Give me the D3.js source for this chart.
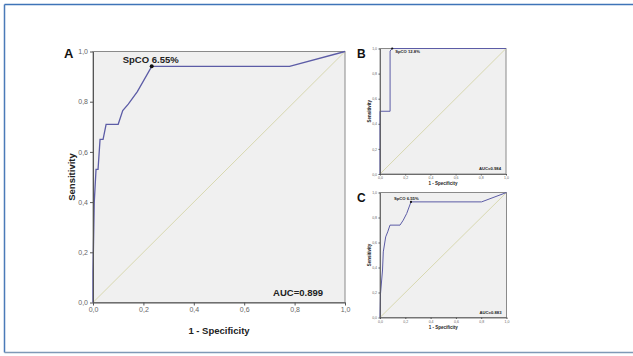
<!DOCTYPE html>
<html>
<head>
<meta charset="utf-8">
<script src="https://cdn.jsdelivr.net/npm/d3@7"></script>
<style>
  html, body { margin: 0; padding: 0; background: #fff; }
  svg { display: block; font-family: "Liberation Sans", Arial, sans-serif; }
</style>
</head>
<body>
<svg id="fig" width="633" height="356"></svg>
<script>
// ROC curves: [1 - specificity, sensitivity]
const rocA = [[0,0],[0,0.12],[0.005,0.40],[0.012,0.53],[0.02,0.53],[0.028,0.65],[0.04,0.65],[0.052,0.71],[0.1,0.71],[0.118,0.765],[0.14,0.79],[0.176,0.84],[0.233,0.941],[0.78,0.941],[1,1]];
const rocB = [[0,0],[0,0.5],[0.08,0.5],[0.08,0.98],[0.097,1],[1,1]];
const rocC = [[0,0],[0.004,0.19],[0.02,0.38],[0.026,0.525],[0.045,0.645],[0.061,0.685],[0.079,0.739],[0.158,0.739],[0.184,0.779],[0.211,0.832],[0.245,0.925],[0.803,0.925],[1,1]];

const panelLetters = ["A", "B", "C"];
const cutoffLabels = ["SpCO 6.55%", "SpCO 12.8%", "SpCO 6.55%"];
const cutoffPoints = [[0.233, 0.941], [0.097, 1], [0.245, 0.925]];
const aucLabels = ["AUC=0.899", "AUC=0.984", "AUC=0.883"];
const tickValues = [0, 0.2, 0.4, 0.6, 0.8, 1.0];
const tickText = v => v.toFixed(1).replace(".", ",");
const xTitle = "1 - Specificity";
const yTitle = "Sensitivity";

const svg = d3.select("#fig");

// outer frame
svg.append("line").attr("x1", 4.5).attr("y1", 4.5).attr("x2", 640).attr("y2", 4.5)
  .attr("stroke", "#3f74b8").attr("stroke-width", 1.5);
svg.append("line").attr("x1", 4.5).attr("y1", 4.5).attr("x2", 4.5).attr("y2", 352.5)
  .attr("stroke", "#4a7ab8").attr("stroke-width", 1.5);
svg.append("line").attr("x1", 4.5).attr("y1", 352.5).attr("x2", 640).attr("y2", 352.5)
  .attr("stroke", "#7f99b6").attr("stroke-width", 1.5);

function drawPanel(cfg) {
  const { data, letter, cutoff, cutoffPt, auc, box, s } = cfg;
  const x = d3.scaleLinear().domain([0, 1]).range([box.left, box.right]);
  const y = d3.scaleLinear().domain([0, 1]).range([box.bottom, box.top]);
  const g = svg.append("g");

  // plot background and frame
  g.append("rect").attr("x", box.left).attr("y", box.top)
    .attr("width", box.right - box.left).attr("height", box.bottom - box.top)
    .attr("fill", "#f0f0f0").attr("stroke", "#8a8a8a").attr("stroke-width", 1);

  // reference diagonal
  g.append("line").attr("x1", x(0)).attr("y1", y(0)).attr("x2", x(1)).attr("y2", y(1))
    .attr("stroke", "#d8d8b0").attr("stroke-width", 1);

  // ROC curve
  g.append("path").datum(data)
    .attr("d", d3.line().x(d => x(d[0])).y(d => y(d[1])))
    .attr("fill", "none").attr("stroke", "#5c5ca6").attr("stroke-width", s.curve);

  // cut-off point
  g.append("circle").attr("cx", x(cutoffPt[0])).attr("cy", y(cutoffPt[1]))
    .attr("r", s.dot).attr("fill", "#111");

  // axes
  const xAxis = d3.axisBottom(x).tickValues(tickValues).tickFormat(tickText)
    .tickSizeInner(s.tick).tickSizeOuter(0).tickPadding(s.pad);
  const yAxis = d3.axisLeft(y).tickValues(tickValues).tickFormat(tickText)
    .tickSizeInner(s.tick).tickSizeOuter(0).tickPadding(s.pad);
  const gx = g.append("g").attr("transform", `translate(0,${box.bottom})`).call(xAxis);
  const gy = g.append("g").attr("transform", `translate(${box.left},0)`).call(yAxis);
  [gx, gy].forEach(a => {
    a.select(".domain").attr("stroke", "#555").attr("stroke-width", s.axis);
    a.selectAll(".tick line").attr("stroke", "#555");
    a.selectAll(".tick text").attr("fill", "#666").attr("font-size", s.tickFont)
      .attr("font-family", "Liberation Sans, Arial, sans-serif");
  });

  // titles
  g.append("text").attr("x", (box.left + box.right) / 2).attr("y", box.bottom + s.xTitleOff)
    .attr("text-anchor", "middle").attr("font-size", s.titleFont).attr("font-weight", "bold")
    .attr("fill", "#222").text(xTitle);
  g.append("text")
    .attr("transform", `translate(${box.left - s.yTitleOff},${(box.top + box.bottom) / 2}) rotate(-90)`)
    .attr("text-anchor", "middle").attr("font-size", s.titleFont).attr("font-weight", "bold")
    .attr("fill", "#222").text(yTitle);

  // panel letter
  g.append("text").attr("x", box.left - s.letterOff).attr("y", box.top + s.letterDy)
    .attr("font-size", s.letterFont).attr("font-weight", "bold").attr("fill", "#111").text(letter);

  // cut-off label
  g.append("text").attr("x", x(cutoffPt[0]) + s.cutDx).attr("y", y(cutoffPt[1]) + s.cutDy)
    .attr("text-anchor", "start").attr("font-size", s.cutFont).attr("font-weight", "bold")
    .attr("fill", "#222").text(cutoff);

  // AUC label
  g.append("text").attr("x", box.right - s.aucDx).attr("y", box.bottom - s.aucDy)
    .attr("text-anchor", "end").attr("font-size", s.aucFont).attr("font-weight", "bold")
    .attr("fill", "#222").text(auc);
}

const bigStyle = { curve: 1.3, dot: 2, tick: 3, pad: 2, axis: 1, tickFont: 7, titleFont: 9.5,
  xTitleOff: 31, yTitleOff: 18, letterOff: 29, letterDy: 6, letterFont: 13,
  cutDx: -29, cutDy: -3, cutFont: 9.5, aucDx: 22, aucDy: 7, aucFont: 9.5 };
const smallStyle = { curve: 1, dot: 1.1, tick: 1.5, pad: 1.5, axis: 0.8, tickFont: 3.5, titleFont: 4.5,
  xTitleOff: 11, yTitleOff: 9, letterOff: 23, letterDy: 9, letterFont: 12,
  cutDx: 3, cutDy: 4, cutFont: 4.2, aucDx: 5, aucDy: 4, aucFont: 4.2 };

const panels = [
  { data: rocA, box: { left: 93, right: 345, top: 51.5, bottom: 302.5 }, s: bigStyle },
  { data: rocB, box: { left: 380, right: 506, top: 48.5, bottom: 174 }, s: smallStyle },
  { data: rocC, box: { left: 380, right: 506.5, top: 192.5, bottom: 317.5 },
    s: Object.assign({}, smallStyle, { cutDx: -17, cutDy: -1.5 }) }
];

panels.forEach((p, i) => drawPanel({
  data: p.data, box: p.box, s: p.s,
  letter: panelLetters[i], cutoff: cutoffLabels[i], cutoffPt: cutoffPoints[i], auc: aucLabels[i]
}));
</script>
</body>
</html>
